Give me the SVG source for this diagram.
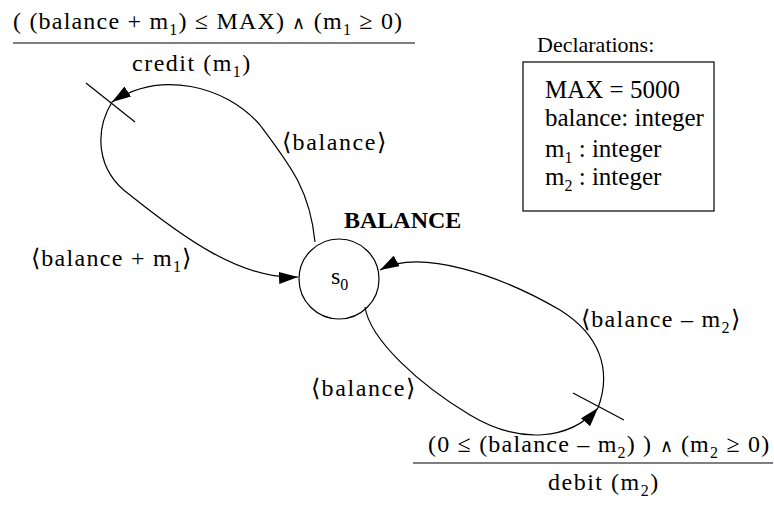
<svg xmlns="http://www.w3.org/2000/svg" width="774" height="521" viewBox="0 0 774 521">
<defs>
<style>
text{font-family:"Liberation Serif","Times New Roman",serif;fill:#000}
.lab{font-size:24px}
.dec{font-size:25px}
.sub{font-size:16px}
.sym{font-size:18px}
.ln{fill:none;stroke:#000;stroke-width:1.2}
.bar{stroke:#555;stroke-width:1.5}
</style>
<marker id="ah" markerWidth="19" markerHeight="12" refX="19" refY="6" orient="auto" markerUnits="userSpaceOnUse">
<path d="M0,0 L19,6 L0,12 z" fill="#000"/>
</marker>
</defs>
<rect width="774" height="521" fill="#fff"/>
<g id="guard-credit">
<text class="lab" x="13" y="29" letter-spacing="1.2">( (balance + m<tspan class="sub" dy="6">1</tspan><tspan dy="-6">) ≤ MAX) </tspan><tspan class="sym">∧</tspan><tspan> (m</tspan><tspan class="sub" dy="6">1</tspan><tspan dy="-6"> ≥ 0)</tspan></text>
<line class="bar" x1="13" y1="43" x2="415" y2="43"/>
<text class="lab" x="132" y="71" letter-spacing="1.5">credit (m<tspan class="sub" dy="6">1</tspan><tspan dy="-6">)</tspan></text>
</g>
<g id="declarations">
<text style="font-size:22px" x="537" y="52">Declarations:</text>
<rect x="523" y="62" width="191" height="149" fill="none" stroke="#000" stroke-width="1.2"/>
<text class="dec" x="545" y="98">MAX = 5000</text>
<text class="dec" x="545" y="126">balance: integer</text>
<text class="dec" x="545" y="157">m<tspan class="sub" dy="6">1</tspan><tspan dy="-6"> : integer</tspan></text>
<text class="dec" x="545" y="185">m<tspan class="sub" dy="6">2</tspan><tspan dy="-6"> : integer</tspan></text>
</g>
<g id="s0">
<text x="344" y="228" style="font-size:24px;font-weight:bold">BALANCE</text>
<circle cx="339" cy="279" r="40" fill="none" stroke="#000" stroke-width="1.2"/>
<text class="lab" x="331" y="284">s<tspan class="sub" dy="6">0</tspan></text>
</g>
<g id="guard-debit">
<text class="lab" x="428" y="452" letter-spacing="1.2">(0 ≤ (balance – m<tspan class="sub" dy="6">2</tspan><tspan dy="-6">) ) </tspan><tspan class="sym">∧</tspan><tspan> (m</tspan><tspan class="sub" dy="6">2</tspan><tspan dy="-6"> ≥ 0)</tspan></text>
<line class="bar" x1="413" y1="463" x2="773" y2="463"/>
<text class="lab" x="548" y="490" letter-spacing="1.5">debit (m<tspan class="sub" dy="6">2</tspan><tspan dy="-6">)</tspan></text>
</g>
<g id="connectors">
<path class="ln" d="M315,242 C310,190 290,165 260,125 C225,85 160,70 112,102" marker-end="url(#ah)"/>
<path class="ln" d="M112,102 C95,130 95,170 130,195 C180,235 240,280 298,277" marker-end="url(#ah)"/>
<line class="ln" x1="86" y1="83" x2="135" y2="122"/>
<path class="ln" d="M365,307 C370,340 420,385 470,415 C520,445 570,440 598,408" marker-end="url(#ah)"/>
<path class="ln" d="M598,408 C612,370 600,335 560,310 C500,275 420,248 380,270" marker-end="url(#ah)"/>
<line class="ln" x1="573" y1="393" x2="624" y2="420"/>
<text class="lab" x="282" y="150" letter-spacing="1.6">⟨balance⟩</text>
<text class="lab" x="31" y="266" letter-spacing="1.3">⟨balance + m<tspan class="sub" dy="6">1</tspan><tspan dy="-6">⟩</tspan></text>
<text class="lab" x="581" y="327" letter-spacing="1.3">⟨balance – m<tspan class="sub" dy="6">2</tspan><tspan dy="-6">⟩</tspan></text>
<text class="lab" x="311" y="396" letter-spacing="1.6">⟨balance⟩</text>
</g>
</svg>
